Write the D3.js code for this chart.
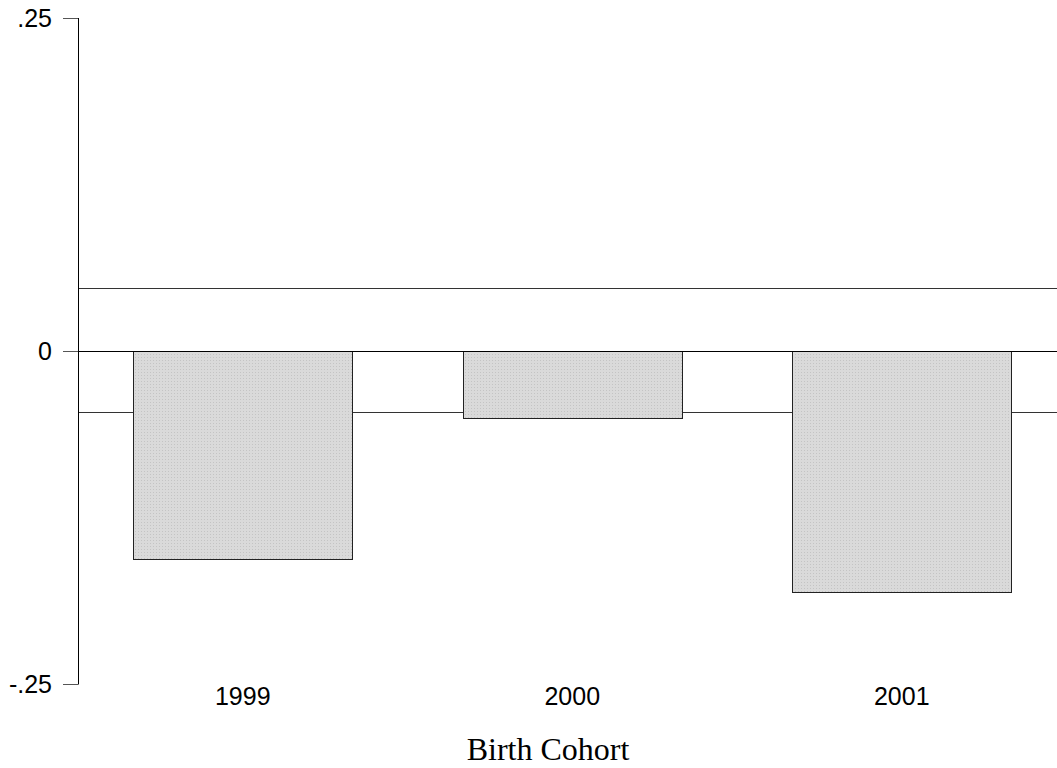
<!DOCTYPE html>
<head>
<meta charset="utf-8">
<script src="https://d3js.org/d3.v7.min.js"></script>
<style>
  body { margin: 0; background: #fff; }
  .tick-label { font-family: "Liberation Sans", Arial, sans-serif; font-size: 25px; fill: #000; }
  .xtitle { font-family: "Liberation Serif", "Times New Roman", serif; font-size: 32px; fill: #000; }
</style>
</head>
<body>
<script>

var cohorts = ["1999", "2000", "2001"];
var effects = [-0.156, -0.0505, -0.181];
var bandLines = [0.047, -0.046];
var yTicks = [0.25, 0, -0.25];
var yTickLabels = [".25", "0", "-.25"];

var width = 1057;
var height = 768;
var left = 78;

var svg = d3.select("body")
    .append("svg")
    .attr("width", width)
    .attr("height", height);

var defs = svg.append("defs");
var pat = defs.append("pattern")
    .attr("id", "dots")
    .attr("width", 3)
    .attr("height", 3)
    .attr("patternUnits", "userSpaceOnUse");
pat.append("rect").attr("width", 3).attr("height", 3).attr("fill", "#dadada");
pat.append("rect").attr("width", 1).attr("height", 1).attr("fill", "#c4c4c4");

var y = d3.scaleLinear()
    .domain([-0.25, 0.25])
    .range([684, 18]);

var x = d3.scaleBand()
    .domain(cohorts)
    .range([left, left + 3 * 329.5])
    .paddingInner(0.335)
    .paddingOuter(0.1675);

// reference lines
svg.selectAll(".band-line")
    .data(bandLines)
    .enter()
    .append("line")
    .attr("x1", left)
    .attr("x2", width)
    .attr("y1", function (d) { return Math.round(y(d)) + 0.5; })
    .attr("y2", function (d) { return Math.round(y(d)) + 0.5; })
    .attr("stroke", "#333")
    .attr("stroke-width", 1);

// bars
svg.selectAll(".bar")
    .data(cohorts)
    .enter()
    .append("rect")
    .attr("x", function (d) { return Math.round(x(d)) + 0.5; })
    .attr("y", function (d, i) { return Math.round(y(Math.max(0, effects[i]))) + 0.5; })
    .attr("width", Math.round(x.bandwidth()))
    .attr("height", function (d, i) { return Math.round(Math.abs(y(effects[i]) - y(0))); })
    .attr("fill", "url(#dots)")
    .attr("stroke", "#222")
    .attr("stroke-width", 1);

// zero line
svg.append("line")
    .attr("x1", left - 15)
    .attr("x2", width)
    .attr("y1", Math.round(y(0)) + 0.5)
    .attr("y2", Math.round(y(0)) + 0.5)
    .attr("stroke", "#000")
    .attr("stroke-width", 1);

// y axis
svg.append("line")
    .attr("x1", left + 0.5)
    .attr("x2", left + 0.5)
    .attr("y1", y(0.25))
    .attr("y2", y(-0.25) + 0.5)
    .attr("stroke", "#000");

svg.selectAll(".ytick")
    .data(yTicks)
    .enter()
    .append("line")
    .attr("x1", left - 15)
    .attr("x2", left)
    .attr("y1", function (d) { return Math.round(y(d)) + 0.5; })
    .attr("y2", function (d) { return Math.round(y(d)) + 0.5; })
    .attr("stroke", "#555");

svg.selectAll(".ylab")
    .data(yTicks)
    .enter()
    .append("text")
    .attr("class", "tick-label")
    .attr("x", 52)
    .attr("y", function (d) { return y(d); })
    .attr("dy", "0.35em")
    .attr("text-anchor", "end")
    .text(function (d, i) { return yTickLabels[i]; });

// x labels
svg.selectAll(".xlab")
    .data(cohorts)
    .enter()
    .append("text")
    .attr("class", "tick-label")
    .attr("x", function (d) { return x(d) + x.bandwidth() / 2; })
    .attr("y", 705)
    .attr("text-anchor", "middle")
    .text(function (d) { return d; });

svg.append("text")
    .attr("class", "xtitle")
    .attr("x", 548)
    .attr("y", 760)
    .attr("text-anchor", "middle")
    .text("Birth Cohort");

</script>
</body>
